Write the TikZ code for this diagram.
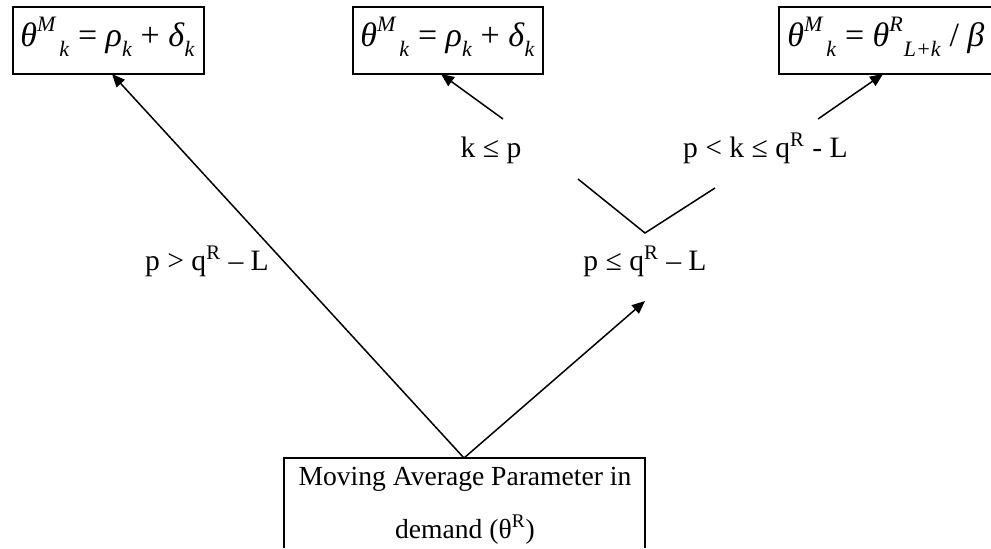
\documentclass[tikz,border=0pt]{standalone}
\usepackage{fontspec}
\setmainfont{Liberation Serif}
\usetikzlibrary{arrows.meta}
\newcommand{\Sup}[1]{\raisebox{0.42em}{\fontsize{11}{11}\selectfont\textit{#1}}}
\newcommand{\Sub}[1]{\raisebox{-0.32em}{\fontsize{11}{11}\selectfont\textit{#1}}}
\begin{document}
\begin{tikzpicture}[x=0.5pt,y=-0.5pt,
  conn/.style={line width=0.75pt},
  arr/.style={conn,-{Triangle[length=6.5pt,width=5.5pt]}},
  frame/.style={draw,line width=0.75pt},
  lbl/.style={font=\fontsize{14.8}{14.8}\selectfont, inner sep=0pt, anchor=base},
  eqn/.style={font=\fontsize{17}{17}\selectfont, inner sep=0pt, anchor=base west}]
\useasboundingbox (0,0) rectangle (991,548);

% top formula boxes
\node[frame, minimum width=95.5pt, minimum height=33.5pt, inner sep=0pt] (b1) at (108.5,40.5) {};
\node[eqn] (e1) at (20,46) {\textit{θ}\Sup{M}\kern1.5pt\Sub{k} = \textit{ρ}\Sub{k} + \textit{δ}\Sub{k}};
\node[frame, minimum width=95pt, minimum height=33.5pt, inner sep=0pt] (b2) at (448,40.5) {};
\node[eqn] (e2) at (360,46) {\textit{θ}\Sup{M}\kern1.5pt\Sub{k} = \textit{ρ}\Sub{k} + \textit{δ}\Sub{k}};
\node[eqn] (e3) at (787,46) {\textit{θ}\Sup{M}\kern1.5pt\Sub{k} = \textit{θ}\Sup{R}\kern0.5pt\Sub{L+k} / \textit{β}};
\draw[conn] (991,7) -| (779,74) -- (991,74);

% bottom box
\draw[conn] (284,548) |- (645,458) -- (645,548);
\node[lbl, font=\fontsize{13.8}{13.8}\selectfont] (mv1) at (465,485) {Moving Average Parameter in};
\node[lbl, font=\fontsize{13.8}{13.8}\selectfont] (mv2) at (465,538) {demand (θ\textsuperscript{R})};

% coordinates
\coordinate (apex) at (464,458);
\coordinate (t1) at (112,74);
\coordinate (t2) at (645,301);
\coordinate (s3) at (503,119);
\coordinate (t3) at (441,74);
\coordinate (s4) at (818,119);
\coordinate (t4) at (883,74);
\coordinate (v1) at (578,179);
\coordinate (v2) at (645,233);
\coordinate (v3) at (715,188);

% connectors
\draw[arr] (apex) -- (t1);
\draw[arr] (apex) -- (t2);
\draw[arr] (s3) -- (t3);
\draw[arr] (s4) -- (t4);
\draw[conn] (v1) -- (v2) -- (v3);

% labels
\node[lbl] (lk) at (491,157) {k ≤ p};
\node[lbl, anchor=base east] (lpk) at (848,157) {p < k ≤ q\textsuperscript{R} - L};
\node[lbl] (lp2) at (645,270) {p ≤ q\textsuperscript{R} – L};
\node[lbl] (lp1) at (207,270) {p > q\textsuperscript{R} – L};
\end{tikzpicture}
\end{document}
